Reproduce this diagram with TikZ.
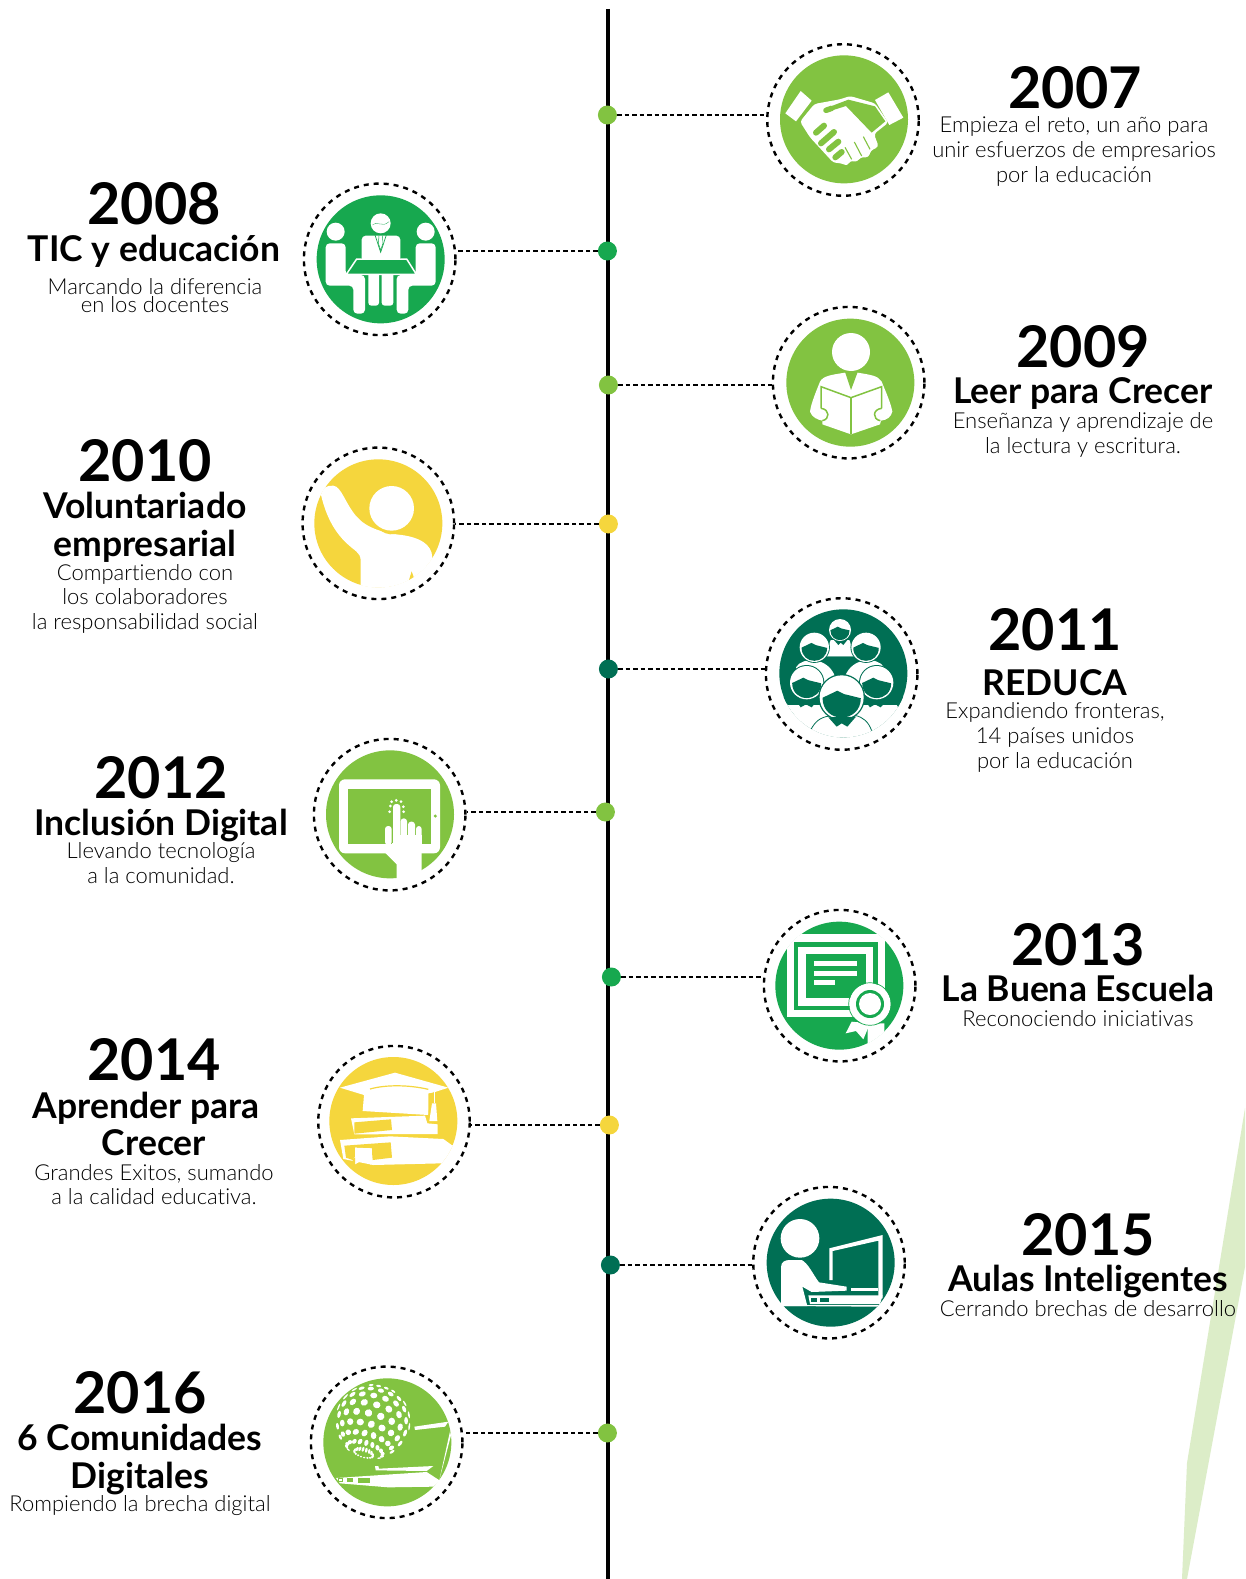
\documentclass[tikz,border=0pt]{standalone}
\usepackage{fontspec}
\setmainfont{Lato}[RawFeature=-liga]
\newfontfamily\lightf{Lato Light}[RawFeature=-liga]
\definecolor{lime}{HTML}{82C341}
\definecolor{grn}{HTML}{17A84F}
\definecolor{yel}{HTML}{F5D63D}
\definecolor{dkg}{HTML}{006F54}
\definecolor{pale}{HTML}{DCEDC8}
\tikzset{
 ringnode/.style={circle,draw=black,line width=2.4pt,dash pattern=on 5pt off 5pt,minimum size=151.5pt,inner sep=0pt},
 discnode/.style={circle,minimum size=128pt,inner sep=0pt},
 dotnode/.style={circle,minimum size=19pt,inner sep=0pt},
 conn/.style={line width=2.4pt,dash pattern=on 4.5pt off 3pt},
 yr/.style={anchor=base,inner sep=0pt,font=\bfseries\fontsize{57.5}{58}\selectfont},
 ttl/.style={anchor=base,inner sep=0pt,font=\bfseries\fontsize{35.5}{36}\selectfont},
 dsc/.style={anchor=base,inner sep=0pt,font=\lightf\fontsize{22}{25}\selectfont},
 iconat/.style 2 args={shift={(#1,#2)},scale=1/3},
}
\newcommand\crowdhead[3]{\begin{scope}[shift={(#1,#2)},scale=#3]
 \fill[dkg] (0,0) circle (1.06);
 \fill[white] (0,0) circle (1);
 \fill[dkg] (-.87,.02) -- (-.2,-.3) -- (.1,-.15) -- (.87,.04) .. controls (.87,.6) and (.45,.92) .. (0,.92) .. controls (-.45,.92) and (-.87,.6) .. (-.87,.02) -- cycle;
\end{scope}}
\begin{document}
\begin{tikzpicture}[x=1pt,y=-1pt]
\useasboundingbox (0,0) rectangle (1245,1579);
\clip (0,0) rectangle (1245,1579);
\fill[white] (0,0) rectangle (1245,1579);
\fill[pale] (1245,1108) -- (1187,1463) -- (1182,1579) -- (1187,1579) -- (1245,1267) -- cycle;
\coordinate (spineTop) at (607.5,9);
\coordinate (spineBot) at (607.5,1579);
\draw[line width=4pt] (spineTop) -- (spineBot);
% timeline dots
\node[dotnode,fill=lime] (d07) at (607.4,115) {};
\node[dotnode,fill=grn]  (d08) at (607.4,251) {};
\node[dotnode,fill=lime] (d09) at (608.4,385) {};
\node[dotnode,fill=yel]  (d10) at (608.4,524) {};
\node[dotnode,fill=dkg]  (d11) at (608.4,669) {};
\node[dotnode,fill=lime] (d12) at (605.4,812) {};
\node[dotnode,fill=grn]  (d13) at (611.4,977) {};
\node[dotnode,fill=yel]  (d14) at (609.4,1125) {};
\node[dotnode,fill=dkg]  (d15) at (610.4,1265) {};
\node[dotnode,fill=lime] (d16) at (607.4,1433) {};

% ---- 2007 handshake
\begin{scope}[iconat={760}{30}]
\node[ringnode] (r07) at (249,270) {};
\node[discnode,fill=lime] (c07) at (252,268) {};
\fill[white] (122,183) -- (155,212) -- (108,274) -- (76,250) -- cycle;
\fill[white] (385,187) -- (430,263) -- (388,285) -- (345,210) -- cycle;
\fill[white,rounded corners=3pt] (163,222) -- (240,208) -- (270,198) -- (345,220) -- (385,278) -- (342,312) -- (356,350) -- (332,362) -- (326,382) -- (300,382) -- (292,396) -- (270,392) -- (262,408) -- (245,400) -- (220,398) -- (150,322) -- (120,275) -- cycle;
\fill[lime] (198,247) -- (258,228) -- (335,308) -- (376,274) -- (345,229) -- (265,209) -- (205,232) -- cycle;
\draw[lime,line width=5.5pt,line cap=round] (198,241) -- (215,235);
\begin{scope}[lime,line width=6pt,line cap=round]
\draw (168,308) -- (192,287);
\draw (183,340) -- (222,306);
\draw (207,358) -- (235,335);
\draw (226,382) -- (245,366);
\end{scope}
\begin{scope}[lime,line width=1.1pt]
\draw (255,352) -- (275,388);
\draw (283,336) -- (305,378);
\draw (310,320) -- (330,358);
\end{scope}
\end{scope}
\draw[conn] (d07) -- (d07 -| r07.west);

% ---- 2008 meeting
\begin{scope}[iconat={295}{175}]
\node[ringnode] (r08) at (254,253) {};
\node[discnode,fill=grn] (c08) at (257,253) {};
\fill[white] (257,145) circle (30);
\draw[grn,line width=.3pt] (232,150) .. controls (245,135) and (262,160) .. (282,140);
\fill[white] (122,170) circle (27);
\fill[white] (392,170) circle (27);
\fill[white,rounded corners=4pt] (200,260) -- (200,182) -- (316,182) -- (316,260) -- cycle;
\draw[grn,line width=.7pt] (240,180) -- (257,232) -- (274,180);
\draw[grn,line width=.5pt] (252,182) -- (250,205) -- (257,225) -- (264,205) -- (262,182);
\fill[white,rounded corners=4pt] (92,205) -- (152,205) -- (152,300) -- (210,300) -- (210,416) -- (175,416) -- (175,332) -- (92,332) -- cycle;
\fill[white,rounded corners=4pt] (422,205) -- (362,205) -- (362,300) -- (305,300) -- (305,416) -- (340,416) -- (340,332) -- (422,332) -- cycle;
\fill[white,rounded corners=3pt] (220,290) rectangle (252,392);
\fill[white,rounded corners=3pt] (260,290) rectangle (295,392);
\filldraw[fill=grn,draw=white,line width=1.5pt] (185,252) -- (335,252) -- (364,298) -- (154,298) -- cycle;
\end{scope}
\draw[conn] (d08) -- (d08 -| r08.east);

% ---- 2009 reader
\begin{scope}[iconat={765}{300}]
\node[ringnode] (r09) at (251,248) {};
\node[discnode,fill=lime] (c09) at (256,248) {};
\fill[white] (258,156) circle (57);
\fill[white] (240,218) .. controls (205,224) and (175,226) .. (165,245) .. controls (155,270) and (138,310) .. (135,335) .. controls (140,352) and (160,360) .. (172,362) -- (172,373) -- (258,403) -- (345,373) -- (348,362) .. controls (365,360) and (378,352) .. (382,335) .. controls (378,310) and (360,270) .. (350,245) .. controls (340,226) and (312,224) .. (278,218) -- cycle;
\fill[lime] (240,216) -- (278,216) -- (258,270) -- cycle;
\begin{scope}[lime,line width=1.5pt]
\draw (168,325) -- (168,260) -- (258,293) -- (350,260) -- (350,325);
\draw (258,293) -- (258,403);
\draw (168,325) .. controls (195,328) and (195,358) .. (172,362);
\draw (350,325) .. controls (322,328) and (322,358) .. (346,362);
\end{scope}
\end{scope}
\draw[conn] (d09) -- (d09 -| r09.west);

% ---- 2010 volunteer
\begin{scope}[iconat={295}{440}]
\node[ringnode] (r10) at (250,250) {};
\node[discnode,fill=yel] (c10) at (250,250) {};
\begin{scope}
\clip (250,250) circle (193);
\fill[white] (115,137) .. controls (140,140) and (150,190) .. (185,230) .. controls (215,265) and (270,280) .. (320,285) .. controls (370,292) and (410,310) .. (412,352) -- (460,460) -- (197,460) -- (197,360) .. controls (195,335) and (180,335) .. (150,305) .. controls (110,265) and (90,215) .. (78,165) .. controls (80,145) and (95,135) .. (115,137) -- cycle;
\fill[yel] (225,205) .. controls (225,250) and (260,290) .. (300,282) -- (360,240) -- (300,130) -- cycle;
\fill[white] (290,205) circle (67);
\fill[yel] (350,394) -- (358,417) -- (342,420) -- cycle;
\end{scope}
\end{scope}
\draw[conn] (d10) -- (d10 -| r10.east);

% ---- 2011 REDUCA
\begin{scope}[iconat={760}{590}]
\node[ringnode] (r11) at (245,252) {};
\node[discnode,fill=dkg] (c11) at (250,250) {};
\begin{scope}
\clip (250,250) circle (192.5);
\fill[white] (60,345) -- (440,345) -- (440,460) -- (60,460) -- cycle;
\fill[white] (108,232) .. controls (125,200) and (205,200) .. (225,260) -- (225,300) -- (110,300) -- cycle;
\fill[white] (372,232) .. controls (355,200) and (275,200) .. (255,260) -- (255,300) -- (372,300) -- cycle;
\fill[white] (212,150) -- (268,150) -- (285,200) -- (195,200) -- cycle;
\fill[dkg] (222,150) -- (235,165) -- (242,158) -- (250,165) -- (262,150) -- cycle;
\fill[dkg] (198,200) -- (282,200) -- (262,240) -- (222,240) -- cycle;
\crowdhead{240}{120}{33}
\crowdhead{163}{172}{44}
\crowdhead{318}{172}{44}
\fill[dkg] (100,320) -- (122,352) -- (138,343) -- (155,352) -- (178,325) -- cycle;
\fill[dkg] (305,320) -- (330,352) -- (345,343) -- (362,352) -- (392,320) -- cycle;
\fill[dkg] (60,320) -- (78,342) -- (98,330) -- (98,320) -- cycle;
\fill[dkg] (395,320) -- (415,352) -- (440,320) -- cycle;
\crowdhead{140}{278}{50}
\crowdhead{350}{278}{50}
\crowdhead{245}{322}{66}
\fill[dkg] (205,382) -- (230,410) -- (245,400) -- (262,410) -- (288,380) -- cycle;
\draw[dkg,line width=.8pt] (152,420) .. controls (165,395) and (180,382) .. (208,378);
\draw[dkg,line width=.8pt] (285,376) .. controls (310,382) and (325,395) .. (335,422);
\end{scope}
\end{scope}
\draw[conn] (d11) -- (d11 -| r11.west);

% ---- 2012 tablet
\begin{scope}[iconat={305}{730}]
\node[ringnode] (r12) at (254,254) {};
\node[discnode,fill=lime] (c12) at (255,253) {};
\fill[white,rounded corners=6pt] (102,148) rectangle (405,370);
\fill[lime] (130,177) rectangle (377,342);
\fill[lime] (391,258) circle (5);
\fill[white] (240,368) -- (275,403) -- (275,448) -- (330,438) -- (350,428) -- (350,368) -- cycle;
\fill[white,rounded corners=3pt] (240,345) -- (240,288) -- (260,288) -- (260,345) -- cycle;
\fill[white,rounded corners=3pt] (264,345) -- (264,222) -- (286,222) -- (286,345) -- cycle;
\fill[white,rounded corners=3pt] (287,345) -- (287,265) -- (306,265) -- (306,345) -- cycle;
\fill[white,rounded corners=3pt] (309,345) -- (309,275) -- (330,275) -- (330,345) -- cycle;
\fill[white,rounded corners=3pt] (333,345) -- (333,288) -- (350,288) -- (350,345) -- cycle;
\fill[white] (262,315) rectangle (350,345);
\draw[lime,line width=.6pt] (263,300) -- (263,338);
\foreach \px/\py in {256/228,260/215,274/211,288/215,295/230,254/245,296/245} \fill[white] (\px,\py) circle (4.5);
\end{scope}
\draw[conn] (d12) -- (d12 -| r12.east);

% ---- 2013 certificate
\begin{scope}[iconat={755}{900}]
\node[ringnode] (r13) at (254,257) {};
\node[discnode,fill=grn] (c13) at (253,257) {};
\begin{scope}
\clip (253,257) circle (193);
\fill[white] (95,103) rectangle (390,350);
\fill[grn] (118,127) rectangle (370,330);
\fill[white] (130,141) rectangle (355,318);
\fill[grn] (152,162) rectangle (333,293);
\fill[white] (177,183) rectangle (306,199);
\fill[white] (177,213) rectangle (306,228);
\fill[white] (177,240) rectangle (240,255);
\fill[white] (290,365) -- (272,400) -- (303,393) -- (325,418) -- (345,370) -- cycle;
\fill[white] (338,370) -- (338,460) -- (388,395) -- (388,370) -- cycle;
\fill[white] (345,312) circle (62);
\fill[grn] (345,312) circle (42);
\fill[white] (345,312) circle (33);
\draw[grn,line width=.7pt] (345,312) circle (64);
\end{scope}
\end{scope}
\draw[conn] (d13) -- (d13 -| r13.west);

% ---- 2014 books
\begin{scope}[iconat={310}{1035}]
\node[ringnode] (r14) at (252,260) {};
\node[discnode,fill=yel] (c14) at (250,258) {};
\begin{scope}
\clip (250,258) circle (192.5);
\fill[white] (90,158) -- (255,113) -- (415,158) -- (372,172) -- (355,175) -- (355,240) -- (158,228) -- (162,180) -- cycle;
\draw[yel,line width=1.2pt] (180,162) .. controls (230,148) and (300,150) .. (355,163);
\fill[white] (123,250) -- (345,242) -- (352,265) -- (383,268) -- (383,297) -- (133,298) -- cycle;
\fill[yel] (133,262) -- (243,253) -- (246,285) -- (133,296) -- cycle;
\fill[yel] (356,228) -- (370,170) -- (385,228) -- (385,262) -- (354,262) -- cycle;
\draw[white,line width=1pt] (372,150) -- (372,205);
\fill[white] (366,205) -- (378,205) -- (382,258) -- (358,258) -- cycle;
\fill[white] (90,315) -- (240,304) -- (400,312) -- (425,330) -- (445,330) -- (445,345) -- (395,385) -- (190,390) -- (100,372) -- cycle;
\fill[yel] (103,332) -- (242,322) -- (246,368) -- (188,375) -- (185,340) -- (135,338) -- (135,366) -- (125,374) -- (108,368) -- cycle;
\fill[white] (135,338) -- (186,340) -- (184,390) -- (160,374) -- (135,388) -- cycle;
\fill[yel] (125,372) -- (135,368) -- (135,388) -- cycle;
\end{scope}
\end{scope}
\draw[conn] (d14) -- (d14 -| r14.east);

% ---- 2015 computer
\begin{scope}[iconat={745}{1180}]
\node[ringnode] (r15) at (252,248) {};
\node[discnode,fill=dkg] (c15) at (257,248) {};
\fill[white] (165,175) circle (58);
\fill[white] (108,378) -- (108,262) .. controls (108,245) and (120,240) .. (135,240) -- (170,240) .. controls (190,250) and (205,285) .. (222,307) -- (305,320) -- (305,332) -- (200,336) -- (172,320) -- (187,378) -- cycle;
\fill[white] (253,205) -- (413,165) -- (413,355) -- (400,355) -- (400,182) -- (263,213) -- (263,300) -- (253,300) -- cycle;
\fill[white] (318,325) -- (400,325) -- (400,334) -- (318,334) -- cycle;
\fill[white] (190,346) -- (413,346) -- (405,372) -- (195,372) -- cycle;
\fill[dkg] (198,355) rectangle (215,365);
\fill[dkg] (225,353) rectangle (253,366);
\fill[white] (110,375) -- (402,375) -- (396,380) -- (112,378) -- cycle;
\end{scope}
\draw[conn] (d15) -- (d15 -| r15.west);

% ---- 2016 globe and laptop
\begin{scope}[iconat={305}{1360}]
\node[ringnode] (r16) at (245,247) {};
\node[discnode,fill=lime] (c16) at (247,247) {};
\foreach \th/\off in {15/0,30/9,46/0,62/9,78/0,94/9,110/0,126/9,142/0}{
 \foreach \k in {0,...,17}{
  \pgfmathsetmacro\ph{\k*20+\off}
  \pgfmathsetmacro\sa{sin(\th)*cos(\ph)}
  \pgfmathsetmacro\sb{sin(\th)*sin(\ph)}
  \pgfmathsetmacro\sc{cos(\th)}
  \pgfmathsetmacro\vz{-0.915*\sb+0.40*\sc}
  \pgfmathsetmacro\vx{0.962*\sa-0.109*\sb-0.25*\sc}
  \pgfmathsetmacro\vy{0.273*\sa+0.385*\sb+0.88*\sc}
  \pgfmathparse{\vz>0.1?1:0}
  \ifnum\pgfmathresult=1\relax
   \pgfmathsetmacro\rad{1+10.5*\vz}
   \pgfmathsetmacro\tng{1.2+10*sin(\th)}
   \pgfmathsetmacro\ang{atan2(-\vy,\vx)}
   \fill[white,shift={(203+112*\vx,185+112*\vy)},rotate=\ang] (0,0) ellipse ({\rad} and {\tng});
  \fi
 }
}
\fill[white] (328,200) -- (430,185) -- (420,200) -- (330,210) -- cycle;
\fill[white] (435,214) -- (438,226) -- (403,360) -- cycle;
\fill[white] (210,318) -- (220,318) -- (222,326) -- (385,318) -- (365,333) -- (212,331) -- cycle;
\fill[white] (93,354) -- (365,336) -- (405,362) -- (385,380) -- (250,382) -- (105,370) -- cycle;
\filldraw[draw=lime,fill=white,line width=.4pt] (100,356) rectangle (113,363);
\fill[lime] (125,355) rectangle (145,367);
\fill[lime] (160,353) rectangle (195,368);
\end{scope}
\draw[conn] (d16) -- (d16 -| r16.east);

% ---- texts
\node[yr] (y07) at (1075,108.5) {2007};
\node[dsc] (t07a) at (1074,132) {Empieza el reto, un año para};
\node[dsc] (t07b) at (1074,157) {unir esfuerzos de empresarios};
\node[dsc] (t07c) at (1074,182) {por la educación};

\node[yr] (y08) at (154,224) {2008};
\node[ttl] (h08) at (154,261) {TIC y educación};
\node[dsc] (t08a) at (155,294.5) {Marcando la diferencia};
\node[dsc] (t08b) at (155,312.5) {en los docentes};

\node[yr] (y09) at (1083,367.5) {2009};
\node[ttl] (h09) at (1083,403.5) {Leer para Crecer};
\node[dsc] (t09a) at (1083,428.5) {Enseñanza y aprendizaje de};
\node[dsc] (t09b) at (1083,453.5) {la lectura y escritura.};

\node[yr] (y10) at (145,481) {2010};
\node[ttl] (h10a) at (145,518) {Voluntariado};
\node[ttl] (h10b) at (145,556) {empresarial};
\node[dsc] (t10a) at (145,580.5) {Compartiendo con};
\node[dsc] (t10b) at (145,604.5) {los colaboradores};
\node[dsc] (t10c) at (145,629.5) {la responsabilidad social};

\node[yr] (y11) at (1055,650) {2011};
\node[ttl] (h11) at (1055,695) {REDUCA};
\node[dsc] (t11a) at (1055,718.5) {Expandiendo fronteras,};
\node[dsc] (t11b) at (1055,743.5) {14 países unidos};
\node[dsc] (t11c) at (1055,768.5) {por la educación};

\node[yr] (y12) at (161,798) {2012};
\node[ttl] (h12) at (161,835) {Inclusión Digital};
\node[dsc] (t12a) at (161,858.5) {Llevando tecnología};
\node[dsc] (t12b) at (161,883.5) {a la comunidad.};

\node[yr] (y13) at (1078,965) {2013};
\node[ttl] (h13) at (1078,1001.5) {La Buena Escuela};
\node[dsc] (t13a) at (1078,1026.5) {Reconociendo iniciativas};

\node[yr] (y14) at (154,1080) {2014};
\node[ttl] (h14a) at (146,1118) {Aprender para};
\node[ttl] (h14b) at (154,1155) {Crecer};
\node[dsc] (t14a) at (154,1180) {Grandes Exitos, sumando};
\node[dsc] (t14b) at (154,1204) {a la calidad educativa.};

\node[yr] (y15) at (1088,1255) {2015};
\node[ttl] (h15) at (1088,1291.5) {Aulas Inteligentes};
\node[dsc] (t15a) at (1088,1316.5) {Cerrando brechas de desarrollo};

\node[yr] (y16) at (140,1413) {2016};
\node[ttl] (h16a) at (140,1450.5) {6 Comunidades};
\node[ttl] (h16b) at (140,1488.5) {Digitales};
\node[dsc] (t16a) at (140,1511.5) {Rompiendo la brecha digital};
\end{tikzpicture}
\end{document}
